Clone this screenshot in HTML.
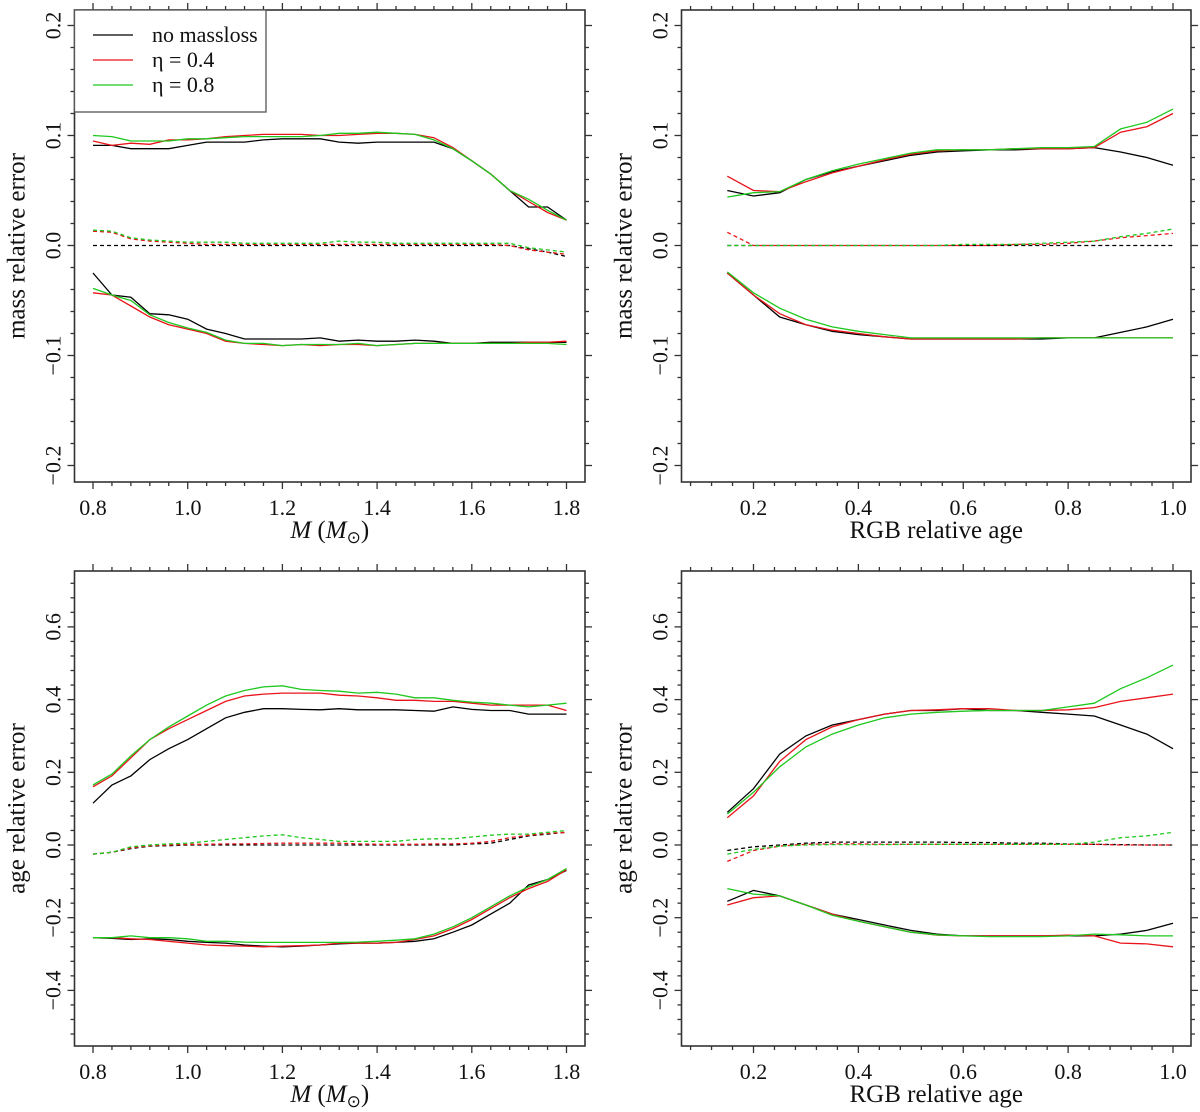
<!DOCTYPE html>
<html><head><meta charset="utf-8"><style>
body{margin:0;background:#fff}
svg{display:block;font-family:"Liberation Serif",serif}
</style></head><body>
<svg id="c" width="1200" height="1112" viewBox="0 0 1200 1112"></svg>
<script>
const xMass=[0.8,0.84,0.88,0.92,0.96,1.0,1.04,1.08,1.12,1.16,1.2,1.24,1.28,1.32,1.36,1.4,1.44,1.48,1.52,1.56,1.6,1.64,1.68,1.72,1.76,1.8];
const xAge=[0.15,0.2,0.25,0.3,0.35,0.4,0.45,0.5,0.55,0.6,0.65,0.7,0.75,0.8,0.85,0.9,0.95,1.0];
const tlUpK=[.091,.091,.088,.088,.088,.091,.094,.094,.094,.096,.097,.097,.097,.094,.093,.094,.094,.094,.094,.088,.077,.065,.05,.035,.035,.023];
const tlUpR=[.095,.091,.093,.092,.096,.096,.097,.099,.1,.101,.101,.101,.1,.1,.101,.102,.102,.101,.098,.089,.077,.065,.05,.04,.03,.023];
const tlUpG=[.1,.099,.095,.095,.095,.097,.097,.098,.099,.099,.099,.099,.1,.102,.102,.103,.102,.101,.096,.088,.077,.065,.05,.042,.032,.023];
const tlMidK=[0,0,0,0,0,0,0,0,0,0,0,0,0,0,0,0,0,0,0,0,0,0,0,-.003,-.006,-.01];
const tlMidR=[.013,.012,.006,.004,.003,.002,.001,.001,.001,.001,.001,.001,.001,.001,.001,.001,.001,.001,.001,.001,.001,.001,0,-.004,-.006,-.008];
const tlMidG=[.014,.013,.007,.005,.004,.003,.003,.003,.002,.002,.002,.002,.002,.004,.003,.003,.002,.002,.002,.002,.002,.002,.002,-.002,-.004,-.006];
const tlLoK=[-.025,-.045,-.047,-.062,-.063,-.067,-.076,-.08,-.085,-.085,-.085,-.085,-.084,-.087,-.086,-.087,-.087,-.086,-.087,-.089,-.089,-.088,-.088,-.088,-.088,-.088];
const tlLoR=[-.043,-.045,-.055,-.065,-.072,-.076,-.08,-.087,-.089,-.09,-.091,-.09,-.091,-.09,-.09,-.091,-.09,-.089,-.089,-.089,-.089,-.089,-.089,-.088,-.088,-.087];
const tlLoG=[-.039,-.045,-.05,-.063,-.07,-.075,-.079,-.086,-.089,-.089,-.091,-.09,-.09,-.09,-.089,-.091,-.09,-.089,-.089,-.089,-.089,-.089,-.089,-.089,-.089,-.09];
const trUpK=[.05,.045,.048,.06,.067,.072,.077,.082,.085,.086,.087,.087,.088,.088,.089,.085,.08,.073];
const trUpR=[.063,.05,.049,.058,.066,.072,.078,.083,.086,.087,.087,.088,.088,.088,.089,.103,.108,.12];
const trUpG=[.044,.048,.049,.06,.068,.074,.079,.084,.087,.087,.087,.088,.089,.089,.09,.106,.112,.124];
const trMidK=[0,0,0,0,0,0,0,0,0,0,0,0,0,0,0,0,0,0];
const trMidR=[.012,0,0,0,0,0,0,0,0,0,0,.001,.001,.002,.004,.007,.009,.011];
const trMidG=[0,0,0,0,0,0,0,0,0,.001,.001,.001,.002,.003,.004,.008,.011,.015];
const trLoK=[-.025,-.045,-.065,-.072,-.078,-.081,-.083,-.085,-.085,-.085,-.085,-.085,-.085,-.084,-.084,-.079,-.074,-.067];
const trLoR=[-.025,-.045,-.062,-.072,-.077,-.08,-.083,-.085,-.085,-.085,-.085,-.085,-.084,-.084,-.084,-.084,-.084,-.084];
const trLoG=[-.024,-.043,-.057,-.067,-.074,-.078,-.081,-.084,-.084,-.084,-.084,-.084,-.084,-.084,-.084,-.084,-.084,-.084];
const blUpK=[.115,.165,.19,.235,.265,.29,.32,.35,.365,.375,.375,.373,.372,.375,.372,.372,.372,.37,.368,.38,.373,.37,.37,.36,.36,.36];
const blUpR=[.16,.19,.24,.29,.32,.345,.37,.395,.41,.415,.418,.418,.418,.412,.41,.405,.398,.398,.395,.395,.39,.385,.385,.385,.385,.37];
const blUpG=[.165,.195,.245,.29,.325,.355,.385,.41,.425,.435,.438,.428,.425,.423,.418,.42,.415,.405,.405,.398,.393,.39,.385,.38,.385,.39];
const blMidK=[-.025,-.02,-.01,-.003,-.002,0,0,0,0,0,0,0,0,0,0,0,0,0,0,0,.003,.005,.015,.025,.03,.035];
const blMidR=[-.025,-.02,-.008,-.002,0,.002,.002,.003,.003,.004,.005,.005,.005,.005,.003,.002,.002,.002,.003,.003,.005,.01,.02,.027,.032,.035];
const blMidG=[-.025,-.02,-.005,0,.003,.005,.01,.015,.02,.025,.028,.02,.015,.01,.01,.01,.01,.015,.017,.017,.022,.027,.03,.03,.035,.04];
const blLoK=[-.255,-.257,-.26,-.258,-.26,-.265,-.268,-.27,-.275,-.278,-.28,-.278,-.275,-.272,-.27,-.27,-.268,-.265,-.258,-.24,-.22,-.19,-.16,-.11,-.095,-.07];
const blLoR=[-.255,-.255,-.258,-.26,-.265,-.27,-.275,-.277,-.278,-.28,-.278,-.277,-.275,-.27,-.27,-.27,-.268,-.26,-.25,-.23,-.205,-.175,-.145,-.12,-.1,-.068];
const blLoG=[-.255,-.255,-.25,-.255,-.255,-.258,-.265,-.265,-.267,-.268,-.268,-.268,-.268,-.268,-.267,-.265,-.262,-.258,-.245,-.225,-.2,-.17,-.14,-.115,-.095,-.065];
const brUpK=[.09,.155,.25,.3,.33,.345,.36,.37,.37,.375,.37,.37,.365,.36,.355,.33,.305,.265];
const brUpR=[.075,.135,.23,.29,.325,.345,.36,.37,.372,.375,.375,.37,.37,.372,.378,.395,.405,.415];
const brUpG=[.085,.145,.215,.27,.305,.33,.35,.36,.365,.368,.37,.37,.37,.38,.39,.43,.46,.495];
const brMidK=[-.015,-.005,0,.005,.008,.008,.008,.008,.008,.007,.007,.005,.005,.003,.002,.001,0,0];
const brMidR=[-.045,-.015,-.003,.002,.003,.003,.002,.002,.002,.002,.002,.002,.002,.002,.002,0,0,0];
const brMidG=[-.025,-.012,-.003,0,.001,.001,.001,.002,.002,.002,.002,.002,.002,.002,.008,.02,.025,.035];
const brLoK=[-.155,-.125,-.14,-.165,-.19,-.205,-.22,-.235,-.245,-.25,-.25,-.25,-.25,-.25,-.25,-.245,-.235,-.215];
const brLoR=[-.165,-.145,-.14,-.165,-.19,-.21,-.225,-.24,-.248,-.25,-.25,-.25,-.25,-.248,-.25,-.27,-.272,-.28];
const brLoG=[-.12,-.135,-.14,-.165,-.193,-.21,-.225,-.24,-.247,-.25,-.252,-.252,-.252,-.25,-.245,-.247,-.25,-.25];
const massTicks=[0.8,1.0,1.2,1.4,1.6,1.8];
const ageTicks=[0.2,0.4,0.6,0.8,1.0];
const topYTicks=[-0.2,-0.1,0,0.1,0.2];
const botYTicks=[-0.4,-0.2,0,0.2,0.4,0.6];

const NS="http://www.w3.org/2000/svg";
const svg=document.getElementById('c');
function mk(t,a,p){const e=document.createElementNS(NS,t);for(const k in a)e.setAttribute(k,a[k]);(p||svg).appendChild(e);return e;}
const COL={K:'#000',R:'#e8141a',G:'#1ec81e'};

function panel(name,b,xa,xb,ya,yb,xs,ys,xmaj,xmin,ymaj,ymin,ylabel,xlabelMass,series){
  const g=mk('g',{});
  
  
  const X=v=>xa[1]+(v-xa[0])*(xb[1]-xa[1])/(xb[0]-xa[0]);
  const Y=v=>ya[1]+(v-ya[0])*(yb[1]-ya[1])/(yb[0]-ya[0]);
  const Xi=p=>xa[0]+(p-xa[1])*(xb[0]-xa[0])/(xb[1]-xa[1]);
  const Yi=p=>ya[0]+(p-ya[1])*(yb[0]-ya[0])/(yb[1]-ya[1]);
  series.forEach(s=>{
    const pts=s.x.map((v,i)=>X(v).toFixed(1)+','+Y(s.y[i]).toFixed(1)).join(' ');
    const pl=mk('polyline',{points:pts,fill:'none',stroke:COL[s.c],'stroke-width':1.3,'stroke-dasharray':s.d?'4,3':'none'},g);
    
    
  });
  const fr=mk('rect',{x:b.l,y:b.t,width:b.r-b.l,height:b.b-b.t,fill:'none',stroke:'#333','stroke-width':1.6},g);
  
  
  const xlo=Xi(b.l),xhi=Xi(b.r);
  for(let v=Math.ceil(xlo/xmin-1e-6)*xmin;v<=xhi+1e-9;v+=xmin){
    const major=Math.abs(v/xmaj-Math.round(v/xmaj))<1e-6;
    const L=major?7:4;const px=X(v);
    mk('line',{x1:px,x2:px,y1:b.b,y2:b.b+L,stroke:'#333','stroke-width':1.3},g);
    mk('line',{x1:px,x2:px,y1:b.t,y2:b.t-L,stroke:'#333','stroke-width':1.3},g);
  }
  xs.forEach(v=>{const t=mk('text',{x:X(v),y:b.b+33,'font-size':22,'text-anchor':'middle',fill:'#111'},g);t.textContent=v.toFixed(1);
    
    });
  const ylo=Yi(b.b),yhi=Yi(b.t);
  for(let v=Math.ceil(ylo/ymin-1e-6)*ymin;v<=yhi+1e-9;v+=ymin){
    const major=Math.abs(v/ymaj-Math.round(v/ymaj))<1e-6;
    const L=major?7:4;const py=Y(v);
    mk('line',{x1:b.l,x2:b.l-L,y1:py,y2:py,stroke:'#333','stroke-width':1.3},g);
    mk('line',{x1:b.r,x2:b.r+L,y1:py,y2:py,stroke:'#333','stroke-width':1.3},g);
  }
  ys.forEach(v=>{const py=Y(v);const t=mk('text',{x:0,y:0,transform:`translate(${b.l-14},${py}) rotate(-90)`,'font-size':22,'text-anchor':'middle',fill:'#111'},g);
    t.textContent=(v<0?'\u2212':'')+Math.abs(v).toFixed(1);
    
    });
  const yt=mk('text',{x:0,y:0,transform:`translate(${b.l-50},${(b.t+b.b)/2}) rotate(-90)`,'font-size':25,'text-anchor':'middle',fill:'#111'},g);
  yt.textContent=ylabel;
  
  
  const xt=mk('text',{x:(b.l+b.r)/2,y:b.b+56,'font-size':25,'text-anchor':'middle',fill:'#111'},g);
  
  
  if(xlabelMass){xt.innerHTML='<tspan font-style="italic">M</tspan> (<tspan font-style="italic">M</tspan><tspan font-size="17" dy="5">\u2299</tspan><tspan dy="-5">)</tspan>';}
  else xt.textContent='RGB relative age';
  return g;
}
function S(x,K,R,G,d,tag){return [{x,y:K,c:'K',d,n:tag+'-no-massloss'},{x,y:R,c:'R',d,n:tag+'-eta-0.4'},{x,y:G,c:'G',d,n:tag+'-eta-0.8'}];}
const bT={t:10,b:482},bB={t:571,b:1046},L={l:74.5,r:585},Rr={l:681.5,r:1191};
panel('panel-mass-vs-M',{...L,...bT},[0.8,93],[1.8,566.5],[0,245.5],[0.1,135.5],massTicks,topYTicks,0.2,0.04,0.1,0.02,'mass relative error',true,
  [...S(xMass,tlUpK,tlUpR,tlUpG,false,'upper'),...S(xMass,tlMidK,tlMidR,tlMidG,true,'mid'),...S(xMass,tlLoK,tlLoR,tlLoG,false,'lower')]);
panel('panel-mass-vs-age',{...Rr,...bT},[0.2,753.5],[1.0,1173],[0,245.5],[0.1,135.5],ageTicks,topYTicks,0.2,0.04,0.1,0.02,'mass relative error',false,
  [...S(xAge,trUpK,trUpR,trUpG,false,'upper'),...S(xAge,trMidK,trMidR,trMidG,true,'mid'),...S(xAge,trLoK,trLoR,trLoG,false,'lower')]);
panel('panel-age-vs-M',{...L,...bB},[0.8,93],[1.8,566.5],[0,845],[0.2,772.3],massTicks,botYTicks,0.2,0.04,0.2,0.04,'age relative error',true,
  [...S(xMass,blUpK,blUpR,blUpG,false,'upper'),...S(xMass,blMidK,blMidR,blMidG,true,'mid'),...S(xMass,blLoK,blLoR,blLoG,false,'lower')]);
panel('panel-age-vs-age',{...Rr,...bB},[0.2,753.5],[1.0,1173],[0,845],[0.2,772.3],ageTicks,botYTicks,0.2,0.04,0.2,0.04,'age relative error',false,
  [...S(xAge,brUpK,brUpR,brUpG,false,'upper'),...S(xAge,brMidK,brMidR,brMidG,true,'mid'),...S(xAge,brLoK,brLoR,brLoG,false,'lower')]);
const lg=mk('g',{});


mk('rect',{x:74.5,y:10,width:191.5,height:102,fill:'#fff',stroke:'#555','stroke-width':1.3},lg);
[['no massloss','K'],['\u03b7 = 0.4','R'],['\u03b7 = 0.8','G']].forEach((e,i)=>{
  const y=35+i*25;
  const ln=mk('line',{x1:93,x2:133,y1:y,y2:y,stroke:COL[e[1]],'stroke-width':1.3},lg);
  
  
  const t=mk('text',{x:152,y:y+7,'font-size':22,fill:'#111'},lg);t.textContent=e[0];
  
  
});
</script>
</body></html>
